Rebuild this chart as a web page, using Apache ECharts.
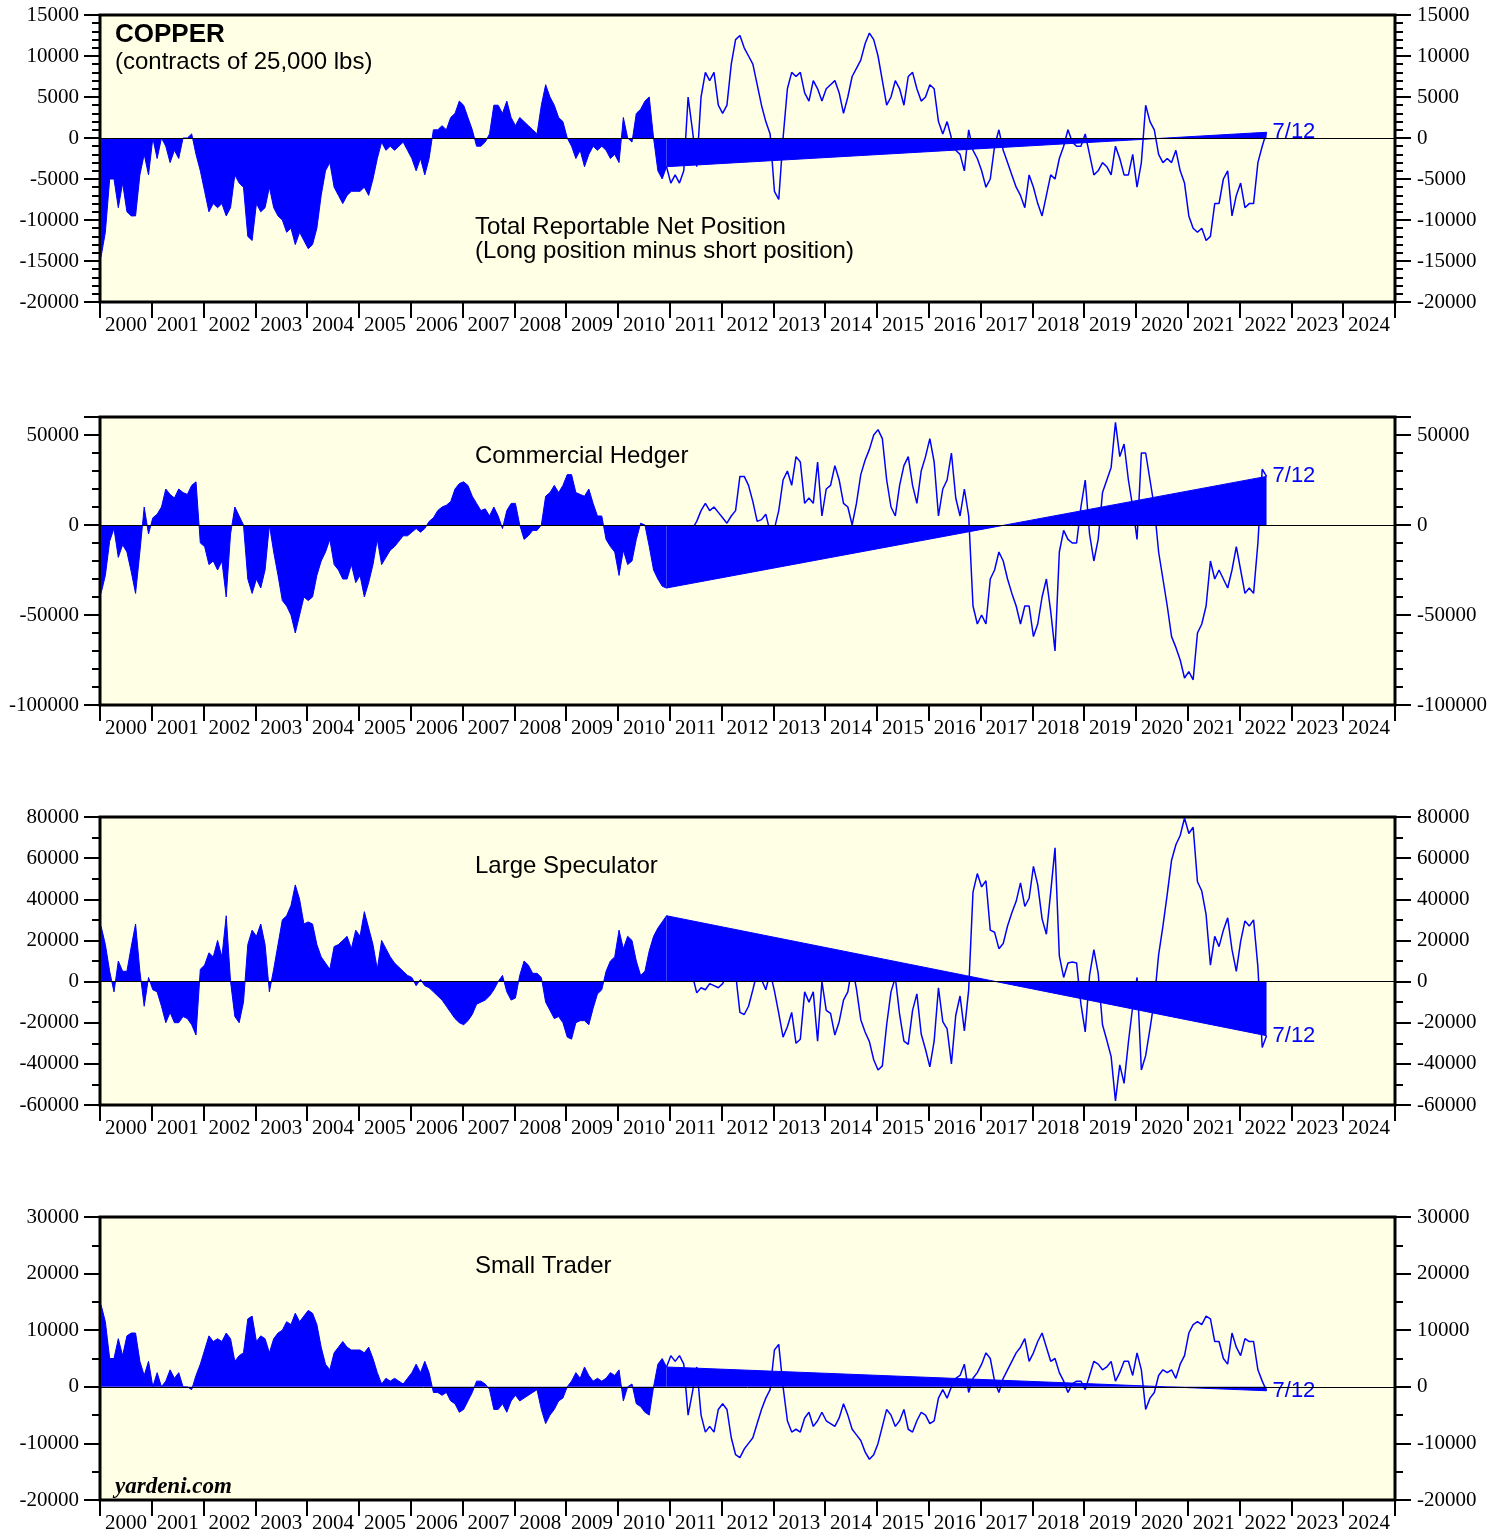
<!DOCTYPE html>
<html>
<head>
<meta charset="utf-8">
<script src="https://cdn.jsdelivr.net/npm/echarts@6/dist/echarts.min.js"></script>
<style>
html,body{margin:0;padding:0;background:#fff;}
#chart{width:1490px;height:1534px;}
</style>
</head>
<body>
<div id="chart"></div>
<script>
// Tick labels of the time axis
const YEARS = ['2000','2001','2002','2003','2004','2005','2006','2007','2008','2009','2010','2011','2012','2013','2014','2015','2016','2017','2018','2019','2020','2021','2022','2023','2024'];
const FIRST_YEAR = 2000;      // monthly observations from Jan 2000 through Jul 2022
const LAST_DATE = '7/12';
const SPLIT_INDEX = 131;      // Dec 2010: last observation drawn as filled area

// Total reportable net position (contracts)
const TOTAL = [
-14500,-11500,-5000,-5000,-8500,-5500,-9000,-9500,-9500,-4500,-2000,-4500,
0,-2500,0,-1000,-3000,-1500,-2500,0,0,500,-2000,-4000,
-6500,-9000,-8000,-8500,-8000,-9500,-8500,-4500,-5500,-6000,-12000,-12500,
-8000,-9000,-8500,-6000,-8500,-9500,-10000,-11500,-11000,-13000,-11500,-12500,
-13500,-13000,-11000,-7000,-4000,-3000,-6000,-7000,-8000,-7000,-6500,-6500,
-6500,-6000,-7000,-5000,-2500,-500,-1500,-1000,-1500,-1000,-500,-1500,
-2500,-4000,-2500,-4500,-2500,1000,1000,1500,1000,2500,3000,4500,
4000,2500,1000,-1000,-1000,-500,500,4000,4000,3000,4500,2500,
1500,2500,2000,1500,1000,500,4000,6500,5000,4000,2500,2000,
0,-1000,-2500,-1500,-3500,-2000,-1000,-1500,-1000,-1500,-2500,-2000,
-3000,2500,0,-500,3000,3500,4500,5000,0,-4000,-5000,-3500,
-5500,-4500,-5500,-4000,5000,1000,-3500,5000,8000,7000,8000,4000,
3000,4000,9000,12000,12500,11000,10000,9000,6500,4000,2000,500,
-6500,-7500,0,6000,8000,7500,8000,5500,4500,7000,6000,4500,
6000,6500,7000,5500,3000,5000,7500,8500,9500,11500,12800,12000,
10000,7000,4000,5000,7000,6000,4000,7500,8000,6000,4500,5000,
6500,6000,2000,500,2000,0,-1500,-2000,-4000,1000,-1500,-2500,
-4000,-6000,-5000,-1000,1000,-1500,-3000,-4500,-6000,-7000,-8500,-4500,
-6000,-8000,-9500,-7000,-4500,-5000,-2500,-1000,1000,-500,-1000,-1000,
500,-2000,-4500,-4000,-3000,-3500,-4500,-1000,-2500,-4500,-4500,-2000,
-6000,-3000,4000,2000,1000,-2000,-3000,-2500,-3000,-1500,-4000,-5500,
-9500,-11000,-11500,-11000,-12500,-12000,-8000,-8000,-5000,-4000,-9500,-7000,
-5500,-8500,-8000,-8000,-3000,-1000,700
];

// Commercial hedger net position
const COMMERCIAL = [
-38000,-28000,-9000,-2000,-18000,-11000,-15000,-26000,-38000,-15000,10000,-5000,
4000,6000,10000,20000,17000,15000,20000,18000,17000,22000,24000,-10000,
-12000,-22000,-20000,-25000,-20000,-40000,-5000,10000,5000,0,-30000,-38000,
-30000,-35000,-25000,0,-15000,-28000,-42000,-45000,-50000,-60000,-50000,-40000,
-42000,-40000,-28000,-20000,-15000,-8000,-22000,-25000,-30000,-30000,-22000,-32000,
-28000,-40000,-32000,-22000,-8000,-22000,-18000,-14000,-12000,-9000,-6000,-6000,
-4000,-2000,-4000,-2000,2000,4000,8000,10000,11000,13000,20000,23000,
24000,22000,16000,12000,8000,9000,5000,10000,5000,-2000,8000,12000,
12000,0,-8000,-6000,-3000,-3000,0,16000,18000,22000,18000,22000,
28000,28000,18000,17000,16000,20000,12000,5000,5000,-8000,-12000,-15000,
-28000,-14000,-22000,-20000,-8000,1000,0,-12000,-25000,-30000,-34000,-35000,
-33000,-28000,-20000,-12000,-5000,-2000,2000,8000,12000,8000,10000,7000,
4000,1000,5000,8000,27000,27000,22000,13000,2000,3000,6000,-4000,
-2000,8000,25000,30000,22000,38000,35000,12000,15000,12000,35000,5000,
20000,22000,33000,25000,12000,10000,0,12000,28000,36000,42000,50000,
53000,48000,25000,10000,5000,22000,33000,38000,22000,12000,30000,38000,
48000,35000,5000,20000,25000,40000,15000,5000,20000,5000,-45000,-55000,
-50000,-55000,-30000,-25000,-15000,-20000,-30000,-38000,-45000,-55000,-45000,-45000,
-62000,-55000,-40000,-30000,-48000,-70000,-15000,-3000,-8000,-10000,-10000,10000,
25000,-5000,-20000,-8000,18000,25000,32000,57000,38000,45000,25000,10000,
-8000,40000,40000,25000,10000,-15000,-30000,-45000,-62000,-68000,-75000,-85000,
-81500,-86000,-60000,-55000,-45000,-20000,-30000,-25000,-30000,-35000,-25000,-12000,
-25000,-38000,-35000,-38000,-10000,31000,27000
];

// Large speculator net position
const LARGE_SPEC = [
27000,18000,5000,-5000,10000,5000,5000,17000,28000,5000,-12000,2000,
-4000,-5000,-12000,-20000,-15000,-20000,-20000,-17000,-18000,-21000,-26000,6000,
8000,14000,12000,20000,12000,32000,0,-17000,-20000,-10000,18000,25000,
22000,28000,18000,-5000,6000,18000,30000,32000,37000,47000,40000,28000,
29000,28000,18000,12000,9000,6000,17000,18000,20000,22000,16000,25000,
22000,34000,26000,18000,6000,20000,16000,12000,9000,7000,5000,3000,
2000,-2000,1000,-2000,-3000,-5000,-7000,-9000,-12000,-15000,-18000,-20000,
-21000,-19000,-16000,-11000,-10000,-9000,-7000,-4000,0,3000,-5000,-9000,
-8000,3000,10000,8000,4000,4000,2000,-10000,-14000,-18000,-17000,-20000,
-27000,-28000,-20000,-19000,-19000,-21000,-13000,-6000,-4000,5000,10000,12000,
25000,16000,22000,20000,10000,3000,5000,15000,22000,26000,29000,32000,
27500,23500,14500,8000,10000,3000,-5500,-3000,-4000,-1000,-2000,-3000,
-1000,3000,4000,4000,-15000,-16000,-12000,-4000,4500,1000,-4000,4500,
-4500,-15500,-27000,-22000,-15000,-30000,-28000,-5000,-10000,-5000,-29000,0,
-14000,-15500,-26000,-19500,-9000,-5000,7500,-3500,-18500,-24500,-29200,-38000,
-43000,-41000,-21000,-5000,2000,-16000,-29000,-30500,-14000,-6000,-25500,-33000,
-41500,-29000,-3000,-19500,-23000,-40000,-16500,-7000,-24000,-4000,43500,52500,
46000,49000,25000,24000,16000,18500,27000,33500,39000,48000,36500,40500,
56000,47000,30500,23000,43500,65000,12500,2000,9000,9500,9000,-11000,
-24500,3000,15500,4000,-21000,-28500,-36500,-58000,-40500,-49500,-29500,-12000,
2000,-43000,-36000,-23000,-9000,13000,27000,42500,59000,66500,71000,79500,
72000,75000,48500,44000,32500,8000,22000,17000,25000,31000,15500,5000,
19500,29500,27000,30000,7000,-32000,-26300
];

// Small trader net position
const SMALL = [
14500,11500,5000,5000,8500,5500,9000,9500,9500,4500,2000,4500,
0,2500,0,1000,3000,1500,2500,0,0,-500,2000,4000,
6500,9000,8000,8500,8000,9500,8500,4500,5500,6000,12000,12500,
8000,9000,8500,6000,8500,9500,10000,11500,11000,13000,11500,12500,
13500,13000,11000,7000,4000,3000,6000,7000,8000,7000,6500,6500,
6500,6000,7000,5000,2500,500,1500,1000,1500,1000,500,1500,
2500,4000,2500,4500,2500,-1000,-1000,-1500,-1000,-2500,-3000,-4500,
-4000,-2500,-1000,1000,1000,500,-500,-4000,-4000,-3000,-4500,-2500,
-1500,-2500,-2000,-1500,-1000,-500,-4000,-6500,-5000,-4000,-2500,-2000,
0,1000,2500,1500,3500,2000,1000,1500,1000,1500,2500,2000,
3000,-2500,0,500,-3000,-3500,-4500,-5000,0,4000,5000,3500,
5500,4500,5500,4000,-5000,-1000,3500,-5000,-8000,-7000,-8000,-4000,
-3000,-4000,-9000,-12000,-12500,-11000,-10000,-9000,-6500,-4000,-2000,-500,
6500,7500,0,-6000,-8000,-7500,-8000,-5500,-4500,-7000,-6000,-4500,
-6000,-6500,-7000,-5500,-3000,-5000,-7500,-8500,-9500,-11500,-12800,-12000,
-10000,-7000,-4000,-5000,-7000,-6000,-4000,-7500,-8000,-6000,-4500,-5000,
-6500,-6000,-2000,-500,-2000,0,1500,2000,4000,-1000,1500,2500,
4000,6000,5000,1000,-1000,1500,3000,4500,6000,7000,8500,4500,
6000,8000,9500,7000,4500,5000,2500,1000,-1000,500,1000,1000,
-500,2000,4500,4000,3000,3500,4500,1000,2500,4500,4500,2000,
6000,3000,-4000,-2000,-1000,2000,3000,2500,3000,1500,4000,5500,
9500,11000,11500,11000,12500,12000,8000,8000,5000,4000,9500,7000,
5500,8500,8000,8000,3000,1000,-700
];

const BLUE = '#0000FF';
const SERIF = '"Liberation Serif", "Times New Roman", serif';
const SANS = '"Liberation Sans", Arial, sans-serif';

const panels = [
  {vals: TOTAL,      min: -20000,  max: 15000, interval: 5000,  minor: 1000,  top: 15,   height: 287},
  {vals: COMMERCIAL, min: -100000, max: 60000, interval: 50000, minor: 10000, top: 417,  height: 288},
  {vals: LARGE_SPEC, min: -60000,  max: 80000, interval: 20000, minor: 10000, top: 817,  height: 288},
  {vals: SMALL,      min: -20000,  max: 30000, interval: 10000, minor: 5000,  top: 1217, height: 288}
];

function monthX(i) { return FIRST_YEAR + i / 12 + 0.02; }
function pts(vals, from, to) {
  const out = [];
  for (let i = from; i <= to; i++) out.push([monthX(i), vals[i]]);
  return out;
}

const grid = [], xAxis = [], yAxis = [], series = [];
panels.forEach((p, g) => {
  grid.push({left: 100, width: 1295, top: p.top, height: p.height, show: true,
    backgroundColor: '#FFFFE5', borderColor: '#000', borderWidth: 3});
  // value axis for data (hidden)
  xAxis.push({type: 'value', gridIndex: g, min: 2000, max: 2025, show: false,
    axisLine: {onZero: false}});
  // category axis for year labels
  xAxis.push({type: 'category', gridIndex: g, data: YEARS, boundaryGap: true, position: 'bottom',
    axisLine: {show: false, onZero: false},
    axisTick: {show: true, interval: 0, length: 16, lineStyle: {color: '#000', width: 2}},
    axisLabel: {interval: 0, margin: 13, fontFamily: SERIF, fontSize: 21, color: '#000'},
    splitLine: {show: false}});
  const yBase = yAxis.length;
  ['left', 'right'].forEach(side => {
    yAxis.push({type: 'value', gridIndex: g, position: side, min: p.min, max: p.max, interval: p.interval,
      axisLine: {show: false, onZero: false},
      axisTick: {show: true, length: 16, lineStyle: {color: '#000', width: 2}},
      axisLabel: {show: true, margin: side === 'left' ? 21 : 22, fontFamily: SERIF, fontSize: 21, color: '#000',
        formatter: v => (v % p.interval === 0 ? String(v) : '')},
      splitLine: {show: false}});
    yAxis.push({type: 'value', gridIndex: g, position: side, min: p.min, max: p.max, interval: p.minor,
      axisLine: {show: false, onZero: false},
      axisTick: {show: true, length: 8, lineStyle: {color: '#000', width: 2}},
      axisLabel: {show: false}, splitLine: {show: false}});
  });
  const xi = 2 * g, yi = yBase;
  const last = p.vals.length - 1;
  // filled area, 2000 through 2010
  series.push({type: 'line', xAxisIndex: xi, yAxisIndex: yi, data: pts(p.vals, 0, SPLIT_INDEX),
    showSymbol: false, symbol: 'none', z: 2,
    lineStyle: {color: BLUE, width: 1}, areaStyle: {color: BLUE, opacity: 1}});
  // polygon closing from the end of the filled part to the last observation
  series.push({type: 'line', xAxisIndex: xi, yAxisIndex: yi,
    data: [[monthX(SPLIT_INDEX), p.vals[SPLIT_INDEX]], [monthX(last), p.vals[last]]],
    showSymbol: false, symbol: 'none', z: 2,
    lineStyle: {color: BLUE, width: 1}, areaStyle: {color: BLUE, opacity: 1},
    endLabel: {show: true, formatter: LAST_DATE, color: BLUE, fontSize: 22, fontFamily: SANS, distance: 6}});
  // line only, 2011 onwards
  series.push({type: 'line', xAxisIndex: xi, yAxisIndex: yi, data: pts(p.vals, SPLIT_INDEX, last),
    showSymbol: false, symbol: 'none', z: 3,
    lineStyle: {color: BLUE, width: 1.5},
    markLine: {silent: true, symbol: 'none', label: {show: false},
      lineStyle: {color: '#000', width: 1, type: 'solid'}, data: [{yAxis: 0}]}});
});

function txt(text, x, y, font, fill) {
  return {type: 'text', x: x, y: y, z: 10,
    style: {text: text, font: font, fill: fill || '#000', verticalAlign: 'middle', align: 'left'}};
}

const graphic = [
  txt('COPPER', 115, 35, 'bold 26px ' + SANS),
  txt('(contracts of 25,000 lbs)', 115, 62, '24px ' + SANS),
  txt('Total Reportable Net Position', 475, 227, '24px ' + SANS),
  txt('(Long position minus short position)', 475, 251, '24px ' + SANS),
  txt('Commercial Hedger', 475, 456, '24px ' + SANS),
  txt('Large Speculator', 475, 866, '24px ' + SANS),
  txt('Small Trader', 475, 1266, '24px ' + SANS),
  txt('yardeni.com', 115, 1487, 'italic bold 23px ' + SERIF)
];

const chart = echarts.init(document.getElementById('chart'), null, {renderer: 'canvas'});
chart.setOption({
  animation: false,
  backgroundColor: '#fff',
  grid: grid, xAxis: xAxis, yAxis: yAxis, series: series, graphic: graphic
});
</script>
</body>
</html>
